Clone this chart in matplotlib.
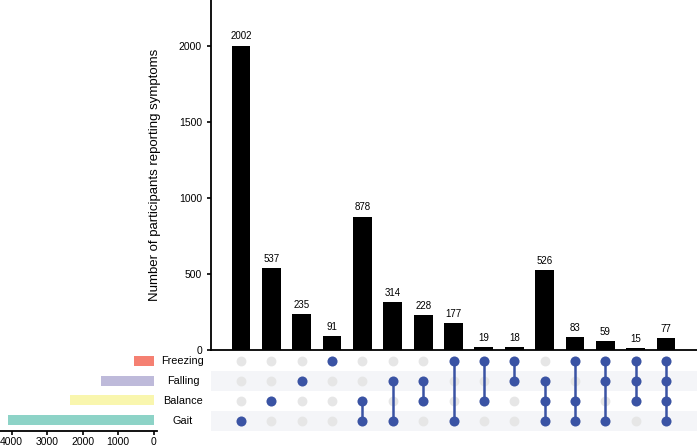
import numpy as np
import matplotlib.pyplot as plt

plt.rcParams['font.family'] = ['Liberation Sans', 'DejaVu Sans']

# data
sets = ["Gait", "Balance", "Falling", "Freezing"]   # bottom -> top in matrix
set_colors = ["#8DD3C7", "#F9F6AE", "#BEBADA", "#F58072"]
counts = [2002, 537, 235, 91, 878, 314, 228, 177, 19, 18, 526, 83, 59, 15, 77]
combos = [
    ["Gait"], ["Balance"], ["Falling"], ["Freezing"],
    ["Balance", "Gait"], ["Falling", "Gait"], ["Falling", "Balance"],
    ["Freezing", "Gait"], ["Freezing", "Balance"], ["Freezing", "Falling"],
    ["Falling", "Balance", "Gait"], ["Freezing", "Balance", "Gait"],
    ["Freezing", "Falling", "Gait"], ["Freezing", "Falling", "Balance"],
    ["Freezing", "Falling", "Balance", "Gait"],
]
set_sizes = [sum(c for c, cb in zip(counts, combos) if s in cb) for s in sets]

BLUE = "#3A53A4"
W, H = 697, 446
fig = plt.figure(figsize=(W / 100, H / 100), dpi=100)

xlim = (-0.988, 15.02)
ylim_mat = (-0.55, 3.55)

# intersection bars
ax_bar = fig.add_axes([211 / W, 1 - 350 / H, 486 / W, 350 / H])
x = np.arange(len(counts))
ax_bar.bar(x, counts, width=0.62, color="black")
for i, c in enumerate(counts):
    ax_bar.annotate(str(c), (i, c), xytext=(0, 3), textcoords="offset points",
                    ha="center", va="bottom", fontsize=7)
ax_bar.set_xlim(xlim)
ax_bar.set_ylim(0, 2302)
ax_bar.set_yticks([0, 500, 1000, 1500, 2000])
ax_bar.set_xticks([])
ax_bar.spines[["top", "right"]].set_visible(False)
ax_bar.spines[["left", "bottom"]].set_linewidth(1.3)
ax_bar.tick_params(axis="y", labelsize=7.5, length=3, width=1.2)
ax_bar.set_ylabel("Number of participants reporting symptoms", fontsize=9.5, labelpad=13)

# matrix
ax_mat = fig.add_axes([211 / W, 1 - 432 / H, 486 / W, 82 / H])
for r in (0, 2):
    ax_mat.axhspan(r - 0.5, r + 0.5, color="#F4F5F8", lw=0, zorder=0)
xx, yy = np.meshgrid(x, np.arange(len(sets)))
ax_mat.scatter(xx.ravel(), yy.ravel(), s=50, color="#E6E6E6", lw=0, zorder=1)
for i, cb in enumerate(combos):
    rows = [sets.index(s) for s in cb]
    if len(rows) > 1:
        ax_mat.plot([i, i], [min(rows), max(rows)], color=BLUE, lw=1.8, zorder=2)
    ax_mat.scatter([i] * len(rows), rows, s=52, color=BLUE, lw=0, zorder=3)
ax_mat.set_xlim(xlim)
ax_mat.set_ylim(ylim_mat)
ax_mat.axis("off")

# set sizes
ax_set = fig.add_axes([0, 1 - 431 / H, 157 / W, 81 / H])
ax_set.barh(np.arange(len(sets)), set_sizes, height=0.5, color=set_colors)
ax_set.set_xlim(4330, -96)
ax_set.set_ylim(ylim_mat)
ax_set.set_xticks([4000, 3000, 2000, 1000, 0])
ax_set.set_yticks([])
ax_set.spines[["top", "right", "left"]].set_visible(False)
ax_set.spines["bottom"].set_linewidth(1.3)
ax_set.tick_params(axis="x", labelsize=7.5, length=3, width=1.2, pad=1.5)

for r, s in enumerate(sets):
    fig.text(183 / W, 1 - (421 - 20 * r) / H, s, ha="center", va="center", fontsize=7.8)

fig.savefig("out.png", dpi=100)
